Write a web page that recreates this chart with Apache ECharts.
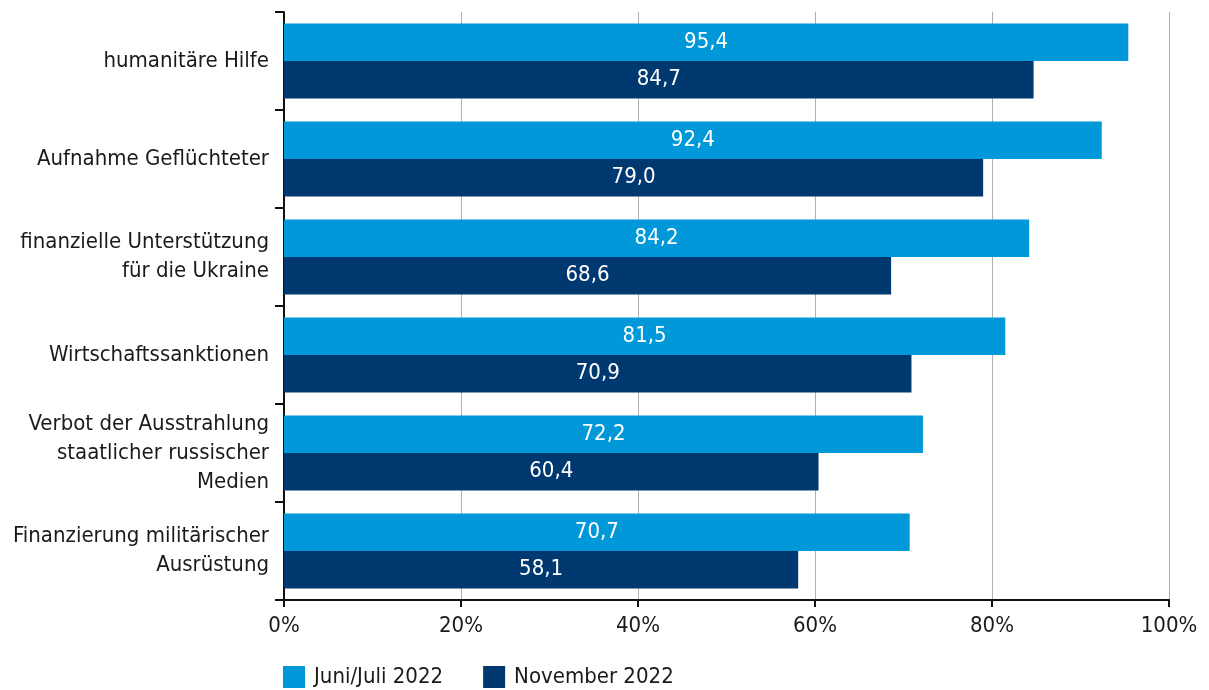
<!DOCTYPE html>
<html><head><meta charset="utf-8">
<script src="https://cdn.jsdelivr.net/npm/echarts@6/dist/echarts.min.js"></script>
<style>html,body{margin:0;padding:0;background:#fff}#c{width:1209px;height:690px}</style>
</head><body><div id="c"></div>
<script>
const categories = [
  "humanitäre Hilfe",
  "Aufnahme Geflüchteter",
  "finanzielle Unterstützung\nfür die Ukraine",
  "Wirtschaftssanktionen",
  "Verbot der Ausstrahlung\nstaatlicher russischer\nMedien",
  "Finanzierung militärischer\nAusrüstung"
];
const seriesNames = ["Juni/Juli 2022", "November 2022"];
const juniJuli = [95.4, 92.4, 84.2, 81.5, 72.2, 70.7];
const november = [84.7, 79.0, 68.6, 70.9, 60.4, 58.1];

const FONT = "'DejaVu Sans Condensed', 'Liberation Sans Narrow', sans-serif";
const chart = echarts.init(document.getElementById('c'));
const fmt = p => p.value.toFixed(1).replace('.', ',');
chart.setOption({
  animation: false,
  textStyle: {fontFamily: FONT},
  grid: {left: 284, right: 40, top: 12, bottom: 90},
  legend: {
    top: 661, left: 278, itemWidth: 22, itemHeight: 22, itemGap: 40,
    icon: 'rect',
    textStyle: {fontFamily: FONT, fontSize: 22, color: '#1a1a1a', padding: [0, 0, 0, 4]},
    data: seriesNames
  },
  xAxis: {
    type: 'value', min: 0, max: 100, interval: 20,
    axisLabel: {formatter: '{value}%', fontFamily: FONT, fontSize: 22, color: '#1a1a1a', margin: 15},
    axisLine: {show: true, lineStyle: {color: '#111', width: 2}},
    axisTick: {show: true, length: 7, lineStyle: {color: '#111', width: 2}},
    splitLine: {show: true, lineStyle: {color: '#b0b0b0', width: 1}}
  },
  yAxis: {
    type: 'category', inverse: true, data: categories,
    axisLabel: {fontFamily: FONT, fontSize: 22, color: '#1a1a1a', margin: 15, lineHeight: 29, align: 'right'},
    axisLine: {show: true, lineStyle: {color: '#111', width: 2}},
    axisTick: {show: true, length: 9, lineStyle: {color: '#111', width: 2}},
    splitLine: {show: false}
  },
  series: [
    {name: seriesNames[0], type: 'bar', data: juniJuli, barGap: '0%', barCategoryGap: '23.5%',
     itemStyle: {color: '#0098d8'},
     label: {show: true, position: 'inside', formatter: fmt, color: '#fff', fontSize: 22, fontFamily: FONT}},
    {name: seriesNames[1], type: 'bar', data: november, barGap: '0%', barCategoryGap: '23.5%',
     itemStyle: {color: '#003870'},
     label: {show: true, position: 'inside', formatter: fmt, color: '#fff', fontSize: 22, fontFamily: FONT}}
  ]
});
</script></body></html>
